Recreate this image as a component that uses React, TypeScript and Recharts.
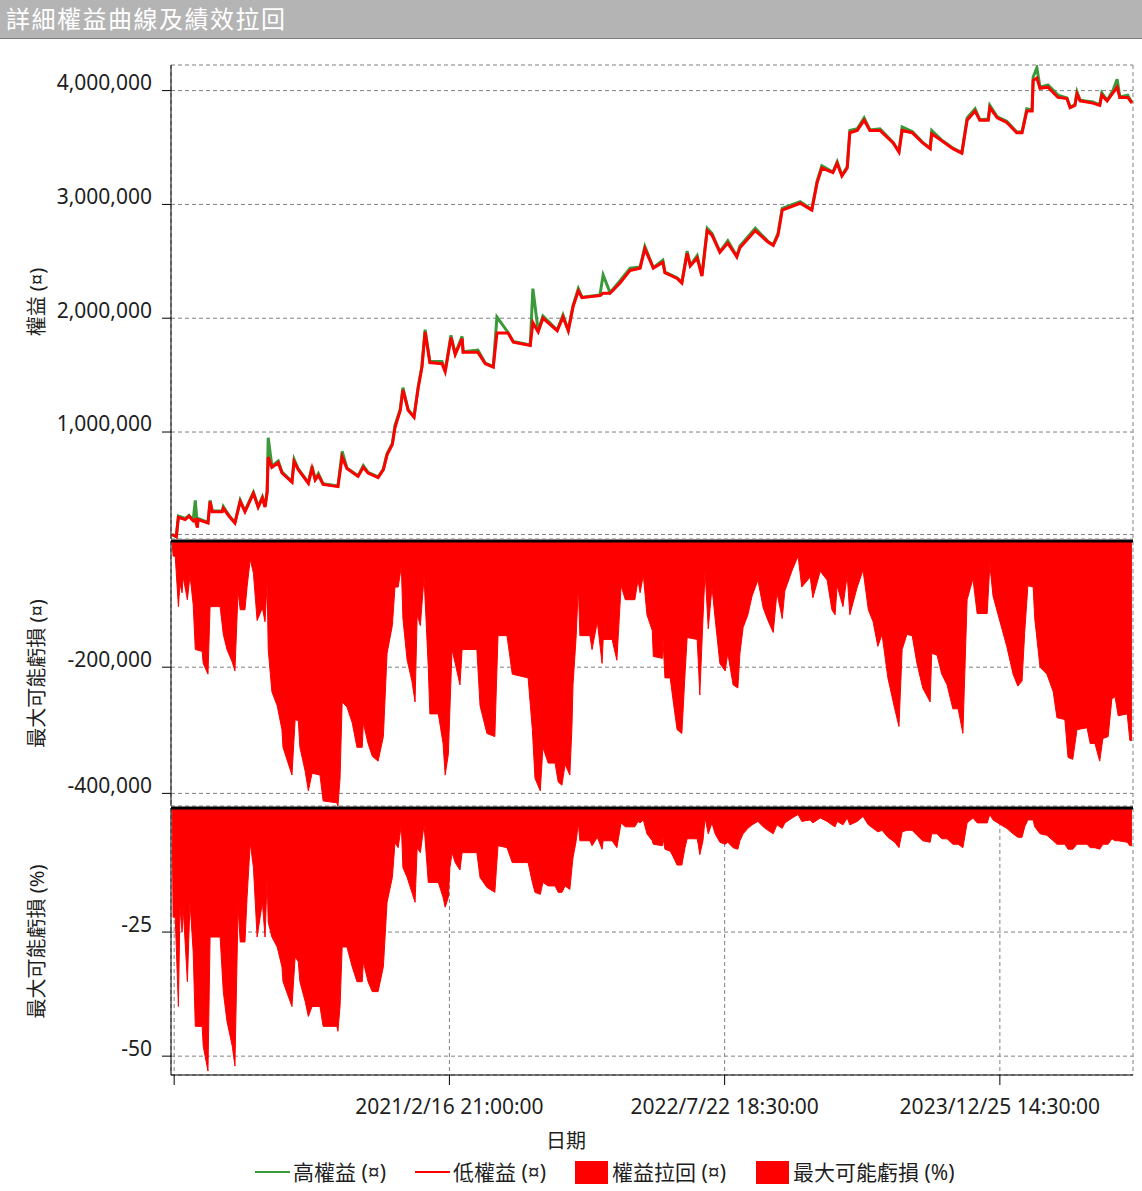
import {
  Area,
  AreaChart,
  CartesianGrid,
  Line,
  LineChart,
  ReferenceLine,
  XAxis,
  YAxis,
} from "recharts";

const FONT = '"Noto Sans", "Noto Sans CJK TC", sans-serif';
const GREEN = "#3a9a3a";
const RED = "#ff0000";
const GRID = "#808080";
const INK = "#1e1e1e";
const WIDTH = 1142;
const AXIS_W = 171;

// x axis: days counted from the first (unlabelled) tick
const xTicks = [0, 521, 1042, 1563];
const xTickLabels = ["", "2021/2/16 21:00:00", "2022/7/22 18:30:00", "2023/12/25 14:30:00"];
const xDomain = [-6, 1815];

const equityTicks = [1000000, 2000000, 3000000, 4000000];
const equityDomain = [60000, 4225000];
const equityFloor = 100000;
const drawdownTicks = [-200000, -400000];
const drawdownDomain = [-420000, 0];
const pctTicks = [-25, -50];
const pctDomain = [-53.8, 0];

const equityDays = [
  -4, 4, 8, 21, 28, 36, 40, 44, 45, 64,
  68, 72, 91, 93, 104, 115, 125, 134, 142, 150,
  159, 167, 172, 176, 178, 185, 197, 204, 223, 227,
  235, 254, 261, 267, 273, 282, 310, 318, 327, 348,
  358, 367, 386, 396, 403, 413, 418, 428, 433, 443,
  454, 462, 469, 475, 484, 507, 513, 524, 532, 545,
  547, 575, 589, 604, 611, 632, 642, 674, 679, 689,
  698, 725, 736, 746, 755, 765, 772, 806, 812, 825,
  844, 863, 882, 891, 907, 925, 929, 952, 961, 971,
  977, 990, 999, 1009, 1018, 1033, 1048, 1065, 1071, 1100,
  1124, 1134, 1143, 1151, 1185, 1207, 1217, 1226, 1247, 1255,
  1264, 1274, 1279, 1293, 1306, 1317, 1336, 1361, 1372, 1378,
  1397, 1417, 1431, 1434, 1453, 1474, 1491, 1501, 1516, 1525,
  1541, 1544, 1558, 1576, 1595, 1605, 1614, 1624, 1626, 1633,
  1639, 1654, 1673, 1690, 1696, 1705, 1709, 1715, 1739, 1752,
  1756, 1766, 1777, 1785, 1790, 1805, 1813,
];

const lowEquity = [
  100000, 80000, 250000, 230000, 260000, 220000, 230000, 160000, 230000, 200000,
  390000, 300000, 300000, 330000, 260000, 200000, 390000, 300000, 380000, 460000,
  340000, 420000, 340000, 470000, 780000, 690000, 730000, 640000, 560000, 740000,
  670000, 550000, 680000, 580000, 620000, 540000, 520000, 780000, 680000, 610000,
  690000, 640000, 600000, 670000, 800000, 890000, 1040000, 1190000, 1370000, 1190000,
  1130000, 1390000, 1570000, 1880000, 1610000, 1600000, 1530000, 1830000, 1680000, 1820000,
  1700000, 1700000, 1600000, 1570000, 1870000, 1870000, 1790000, 1760000, 1960000, 1880000,
  2000000, 1890000, 2010000, 1890000, 2100000, 2240000, 2180000, 2200000, 2220000, 2220000,
  2310000, 2420000, 2440000, 2610000, 2440000, 2490000, 2400000, 2350000, 2310000, 2570000,
  2460000, 2530000, 2370000, 2770000, 2730000, 2580000, 2660000, 2540000, 2620000, 2770000,
  2670000, 2640000, 2730000, 2950000, 3010000, 2950000, 3190000, 3320000, 3280000, 3360000,
  3250000, 3320000, 3630000, 3650000, 3740000, 3650000, 3650000, 3540000, 3460000, 3650000,
  3630000, 3540000, 3490000, 3620000, 3560000, 3490000, 3450000, 3740000, 3820000, 3740000,
  3740000, 3850000, 3760000, 3720000, 3630000, 3630000, 3820000, 3820000, 4090000, 4110000,
  4020000, 4030000, 3940000, 3930000, 3850000, 3870000, 3970000, 3910000, 3890000, 3870000,
  3960000, 3910000, 3980000, 4030000, 3940000, 3940000, 3890000,
];

const highEquity = [
  100000, 80000, 262000, 240000, 268000, 225000, 400000, 165000, 240000, 205000,
  400000, 305000, 305000, 345000, 265000, 205000, 400000, 305000, 390000, 470000,
  345000, 430000, 345000, 480000, 950000, 700000, 745000, 650000, 565000, 760000,
  675000, 555000, 700000, 585000, 635000, 545000, 525000, 830000, 685000, 615000,
  705000, 645000, 605000, 675000, 810000, 900000, 1060000, 1200000, 1390000, 1195000,
  1135000, 1400000, 1580000, 1900000, 1620000, 1620000, 1535000, 1850000, 1690000, 1840000,
  1705000, 1720000, 1605000, 1575000, 2010000, 1875000, 1795000, 1765000, 2260000, 1890000,
  2020000, 1895000, 2030000, 1895000, 2110000, 2260000, 2185000, 2205000, 2380000, 2225000,
  2330000, 2440000, 2450000, 2630000, 2445000, 2510000, 2405000, 2355000, 2315000, 2590000,
  2465000, 2550000, 2375000, 2790000, 2745000, 2585000, 2680000, 2545000, 2635000, 2790000,
  2675000, 2645000, 2745000, 2965000, 3025000, 2955000, 3205000, 3340000, 3285000, 3375000,
  3255000, 3330000, 3650000, 3665000, 3760000, 3655000, 3665000, 3545000, 3465000, 3680000,
  3640000, 3545000, 3495000, 3650000, 3565000, 3495000, 3455000, 3760000, 3840000, 3745000,
  3750000, 3870000, 3770000, 3730000, 3635000, 3640000, 3840000, 3830000, 4120000, 4200000,
  4030000, 4050000, 3960000, 3935000, 3855000, 3875000, 3990000, 3915000, 3900000, 3875000,
  3980000, 3915000, 4000000, 4100000, 3945000, 3960000, 3895000,
];

const drawdownDays = [
  -4, -2, 2, 8, 11, 15, 17, 25, 30, 36,
  40, 53, 55, 64, 68, 87, 93, 100, 110, 115,
  121, 125, 134, 138, 144, 150, 157, 167, 172, 176,
  178, 185, 195, 204, 206, 223, 229, 235, 238, 248,
  254, 261, 276, 282, 308, 310, 314, 318, 327, 337,
  346, 356, 358, 367, 375, 386, 396, 403, 413, 418,
  424, 430, 433, 441, 450, 456, 460, 466, 473, 481,
  484, 500, 509, 513, 519, 522, 526, 532, 541, 545,
  573, 579, 592, 607, 613, 630, 640, 670, 678, 683,
  693, 698, 708, 721, 727, 734, 740, 749, 753, 755,
  761, 765, 768, 787, 791, 801, 810, 812, 829, 838,
  846, 854, 872, 878, 882, 888, 895, 905, 907, 924,
  925, 929, 939, 944, 952, 961, 967, 971, 990, 992,
  995, 1001, 1005, 1011, 1018, 1024, 1033, 1043, 1048, 1058,
  1067, 1071, 1077, 1086, 1094, 1105, 1115, 1124, 1134, 1141,
  1151, 1156, 1170, 1181, 1188, 1204, 1209, 1223, 1236, 1245,
  1251, 1255, 1266, 1274, 1279, 1293, 1304, 1314, 1323, 1332,
  1340, 1351, 1364, 1372, 1378, 1387, 1397, 1406, 1417, 1431,
  1434, 1444, 1453, 1463, 1474, 1484, 1493, 1501, 1512, 1520,
  1539, 1544, 1550, 1559, 1576, 1588, 1597, 1605, 1610, 1616,
  1626, 1629, 1639, 1652, 1664, 1671, 1686, 1692, 1701, 1709,
  1728, 1734, 1743, 1752, 1758, 1768, 1775, 1781, 1787, 1804,
  1809, 1813,
];

const drawdown = [
  0, -24000, -24000, -104000, -68000, -82000, -57000, -93000, -54000, -101000,
  -172000, -175000, -194000, -211000, -104000, -104000, -148000, -172000, -192000, -206000,
  -79000, -109000, -109000, -73000, -29000, -51000, -126000, -106000, -128000, -65000,
  -172000, -239000, -261000, -299000, -327000, -371000, -283000, -285000, -327000, -365000,
  -396000, -368000, -371000, -412000, -415000, -420000, -376000, -255000, -263000, -288000,
  -327000, -327000, -288000, -321000, -341000, -349000, -310000, -178000, -134000, -73000,
  -73000, -40000, -123000, -189000, -222000, -255000, -117000, -134000, -57000, -200000,
  -274000, -274000, -321000, -371000, -338000, -266000, -172000, -194000, -228000, -172000,
  -172000, -261000, -305000, -310000, -150000, -150000, -211000, -217000, -299000, -376000,
  -396000, -327000, -352000, -352000, -382000, -387000, -354000, -371000, -294000, -228000,
  -150000, -71000, -150000, -150000, -172000, -128000, -194000, -156000, -156000, -189000,
  -71000, -93000, -93000, -62000, -82000, -54000, -117000, -142000, -183000, -186000,
  -150000, -217000, -217000, -250000, -299000, -305000, -211000, -153000, -156000, -189000,
  -244000, -123000, -48000, -139000, -73000, -123000, -194000, -206000, -178000, -228000,
  -233000, -178000, -137000, -117000, -87000, -62000, -106000, -126000, -145000, -82000,
  -123000, -79000, -46000, -24000, -73000, -57000, -90000, -48000, -62000, -109000,
  -117000, -71000, -104000, -54000, -117000, -73000, -46000, -109000, -128000, -167000,
  -148000, -217000, -266000, -294000, -172000, -148000, -150000, -194000, -233000, -255000,
  -178000, -181000, -211000, -228000, -266000, -266000, -305000, -93000, -60000, -115000,
  -115000, -37000, -87000, -115000, -167000, -211000, -230000, -222000, -145000, -71000,
  -73000, -123000, -200000, -211000, -239000, -280000, -283000, -343000, -346000, -299000,
  -296000, -321000, -321000, -349000, -313000, -310000, -250000, -247000, -277000, -274000,
  -316000, -316000,
];

const drawdownPct = [
  0, -22, -22, -40, -20, -25, -20, -35, -19, -29,
  -44, -44, -48, -53, -26, -26, -37, -43, -48, -52,
  -20, -27, -27, -18, -7, -12, -26, -19, -26, -14,
  -23, -26, -28, -32, -35, -40, -30, -31, -35, -39,
  -42, -40, -40, -44, -44, -45, -40, -28, -28, -32,
  -35, -35, -31, -35, -37, -37, -32, -19, -14, -7,
  -8, -3.4, -12, -14, -17, -19, -8, -9, -3.4, -15,
  -15, -15, -18, -20, -18, -12, -9, -11, -12.5, -9,
  -9, -14, -16, -17, -7.6, -8, -11, -11, -15, -17,
  -17.4, -15, -15.7, -15.7, -17, -17, -15.7, -16.4, -12, -10,
  -6.6, -3, -6.6, -6.6, -7.6, -5.9, -8.3, -6.6, -6.6, -8,
  -3, -3.8, -3.8, -2.7, -3, -2.4, -5.2, -6.6, -7.3, -7.6,
  -5.9, -8.3, -8.7, -9.7, -11.5, -11.5, -8, -6.2, -6.2, -7.3,
  -9.4, -6.6, -2, -5.2, -3, -5.2, -6.9, -7.3, -6.9, -8,
  -8.3, -6.6, -5.2, -4.1, -3.4, -2.7, -3.8, -4.5, -5.2, -3.4,
  -4.1, -3, -2, -1.3, -2.7, -2.4, -3, -2, -2.7, -3.4,
  -3.8, -2.7, -3.4, -2, -3.4, -2.7, -1.7, -3.4, -4.1, -4.8,
  -4.5, -5.9, -6.9, -8, -4.8, -4.5, -4.5, -5.5, -6.6, -6.9,
  -5.2, -5.2, -6.2, -6.2, -7.3, -7.3, -8, -3, -2, -3,
  -3, -1.3, -2.4, -3, -4.1, -5.2, -5.9, -5.9, -3.8, -2.4,
  -2.4, -3.8, -5.2, -5.5, -6.6, -7.3, -7.3, -8.3, -8.3, -7.3,
  -7.3, -8, -8, -8.3, -7.3, -7.3, -6.2, -6.6, -6.6, -6.9,
  -7.6, -7.6,
];

const legendItems = [
  { name: "高權益 (¤)", color: GREEN, kind: "line", width: 160 },
  { name: "低權益 (¤)", color: RED, kind: "line", width: 160 },
  { name: "權益拉回 (¤)", color: RED, kind: "box", width: 181 },
  { name: "最大可能虧損 (%)", color: RED, kind: "box", width: 200 },
];

const equityRows = equityDays.map((day, i) => ({ day, high: highEquity[i], low: lowEquity[i] }));
const drawdownRows = drawdownDays.map((day, i) => ({ day, dd: drawdown[i], pct: drawdownPct[i] }));

const fmt = (v: number) => v.toLocaleString("en-US");
const xLabel = (v: number) => xTickLabels[xTicks.indexOf(v)] ?? "";

function sideLabel(text: string) {
  return (props: any) => {
    const vb = props.viewBox;
    const cy = vb.y + vb.height / 2;
    return (
      <text
        x={36}
        y={cy}
        transform={`rotate(-90 36 ${cy})`}
        textAnchor="middle"
        dominantBaseline="central"
        fontSize={20}
        fill={INK}
        fontFamily={FONT}
      >
        {text}
      </text>
    );
  };
}

const yTick = { fill: INK, fontSize: 21, fontFamily: FONT, dy: -8 };
const black = { stroke: "#000" };

function hiddenX() {
  return (
    <XAxis
      dataKey="day"
      type="number"
      domain={xDomain}
      ticks={xTicks}
      allowDataOverflow
      height={0}
      tick={false}
      axisLine={false}
      tickLine={false}
    />
  );
}

export default function App() {
  return (
    <div
      style={{
        position: "absolute",
        left: 0,
        top: 0,
        width: WIDTH,
        height: 1191,
        background: "#fff",
        fontFamily: FONT,
        overflow: "hidden",
      }}
    >
      <div
        style={{
          position: "absolute",
          left: 0,
          top: 0,
          width: WIDTH,
          height: 38,
          background: "#b4b4b4",
          borderBottom: "1px solid #7c7c7c",
          color: "#fff",
          fontSize: 24,
          lineHeight: "37px",
          paddingLeft: 6,
          letterSpacing: 1.5,
          boxSizing: "content-box",
        }}
      >
        詳細權益曲線及績效拉回
      </div>

      <div style={{ position: "absolute", left: 0, top: 39 }}>
        <LineChart width={WIDTH} height={500} data={equityRows} margin={{ top: 26, right: 9, bottom: 0, left: 0 }}>
          <CartesianGrid stroke={GRID} strokeDasharray="4 3" />
          {hiddenX()}
          <YAxis
            type="number"
            domain={equityDomain}
            ticks={equityTicks}
            allowDataOverflow
            width={AXIS_W}
            tickFormatter={fmt}
            tick={yTick}
            tickSize={9}
            tickMargin={10}
            axisLine={black}
            tickLine={black}
            label={sideLabel("權益 (¤)")}
          />
          <ReferenceLine y={equityFloor} stroke={GRID} strokeDasharray="4 3" />
          <Line dataKey="high" name="高權益 (¤)" stroke={GREEN} strokeWidth={3} dot={false} activeDot={false} isAnimationActive={false} />
          <Line dataKey="low" name="低權益 (¤)" stroke={RED} strokeWidth={3} dot={false} activeDot={false} isAnimationActive={false} />
        </LineChart>
      </div>

      <div style={{ position: "absolute", left: 0, top: 539 }}>
        <AreaChart width={WIDTH} height={268} data={drawdownRows} margin={{ top: 2, right: 9, bottom: 1, left: 0 }}>
          <CartesianGrid stroke={GRID} strokeDasharray="4 3" />
          {hiddenX()}
          <YAxis
            type="number"
            domain={drawdownDomain}
            ticks={drawdownTicks}
            allowDataOverflow
            width={AXIS_W}
            tickFormatter={fmt}
            tick={yTick}
            tickSize={9}
            tickMargin={10}
            axisLine={black}
            tickLine={black}
            label={sideLabel("最大可能虧損 (¤)")}
          />
          <Area
            type="linear"
            dataKey="dd"
            name="權益拉回 (¤)"
            baseValue={0}
            stroke={RED}
            strokeWidth={1}
            fill={RED}
            fillOpacity={1}
            dot={false}
            activeDot={false}
            isAnimationActive={false}
          />
          <ReferenceLine y={0} stroke="#000" strokeWidth={3} />
        </AreaChart>
      </div>

      <div style={{ position: "absolute", left: 0, top: 806 }}>
        <AreaChart width={WIDTH} height={329} data={drawdownRows} margin={{ top: 2, right: 9, bottom: 0, left: 0 }}>
          <CartesianGrid stroke={GRID} strokeDasharray="4 3" />
          <XAxis
            dataKey="day"
            type="number"
            domain={xDomain}
            ticks={xTicks}
            allowDataOverflow
            height={60}
            tickFormatter={xLabel}
            tick={{ fill: INK, fontSize: 21, fontFamily: FONT }}
            tickSize={10}
            tickMargin={14}
            axisLine={black}
            tickLine={black}
          />
          <YAxis
            type="number"
            domain={pctDomain}
            ticks={pctTicks}
            allowDataOverflow
            width={AXIS_W}
            tick={yTick}
            tickSize={9}
            tickMargin={10}
            axisLine={black}
            tickLine={black}
            label={sideLabel("最大可能虧損 (%)")}
          />
          <Area
            type="linear"
            dataKey="pct"
            name="最大可能虧損 (%)"
            baseValue={0}
            stroke={RED}
            strokeWidth={1}
            fill={RED}
            fillOpacity={1}
            dot={false}
            activeDot={false}
            isAnimationActive={false}
          />
          <ReferenceLine y={0} stroke="#000" strokeWidth={3} />
        </AreaChart>
      </div>

      <div
        style={{
          position: "absolute",
          left: 546,
          top: 1128,
          fontSize: 20,
          lineHeight: "26px",
          color: INK,
        }}
      >
        日期
      </div>

      <div
        style={{
          position: "absolute",
          left: 255,
          top: 1159,
          display: "flex",
          alignItems: "center",
          fontSize: 21,
          lineHeight: "26px",
          color: INK,
          whiteSpace: "nowrap",
        }}
      >
        {legendItems.map((item) => (
          <div key={item.name} style={{ display: "flex", alignItems: "center", width: item.width }}>
            <span
              style={{
                display: "inline-block",
                width: item.kind === "line" ? 35 : 33,
                height: item.kind === "line" ? 2 : 23,
                background: item.color,
                marginRight: item.kind === "line" ? 3 : 4,
              }}
            />
            <span>{item.name}</span>
          </div>
        ))}
      </div>
    </div>
  );
}
